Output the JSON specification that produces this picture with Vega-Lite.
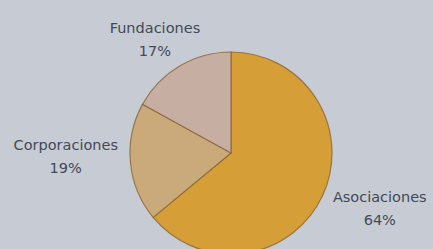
{
  "$schema": "https://vega.github.io/schema/vega-lite/v6.json",
  "width": 202,
  "height": 202,
  "padding": {"left": 130, "top": 52, "right": 101, "bottom": 0},
  "autosize": {"type": "none"},
  "background": "#c7ccd4",
  "config": {"view": {"stroke": null}},
  "data": {"values": [
    {"tipo": "Asociaciones", "pct": 64, "etiqueta": "Asociaciones\n64%", "orden": 1},
    {"tipo": "Corporaciones", "pct": 19, "etiqueta": "Corporaciones\n19%", "orden": 2},
    {"tipo": "Fundaciones", "pct": 17, "etiqueta": "Fundaciones\n17%", "orden": 3}
  ]},
  "encoding": {
    "theta": {"field": "pct", "type": "quantitative", "stack": true},
    "order": {"field": "orden", "type": "quantitative"}
  },
  "layer": [
    {
      "mark": {"type": "arc", "outerRadius": 101, "stroke": "#8a6634", "strokeWidth": 1.2, "strokeOpacity": 0.8},
      "encoding": {
        "color": {
          "field": "tipo", "type": "nominal", "legend": null,
          "scale": {"domain": ["Asociaciones", "Corporaciones", "Fundaciones"], "range": ["#d69e36", "#caaa7a", "#c6aea3"]}
        }
      }
    },
    {
      "mark": {"type": "text", "radius": 160, "dx": 4, "dy": -23, "font": "DejaVu Sans", "fontSize": 14.5, "fill": "#434957", "lineHeight": 23, "lineBreak": "\n"},
      "encoding": {"text": {"condition": {"test": "datum.tipo == 'Asociaciones'", "field": "etiqueta"}, "value": ""}}
    },
    {
      "mark": {"type": "text", "radius": 165, "dx": -1, "dy": -23, "font": "DejaVu Sans", "fontSize": 14.5, "fill": "#434957", "lineHeight": 23, "lineBreak": "\n"},
      "encoding": {"text": {"condition": {"test": "datum.tipo == 'Corporaciones'", "field": "etiqueta"}, "value": ""}}
    },
    {
      "mark": {"type": "text", "radius": 120, "dx": -15, "dy": -21, "font": "DejaVu Sans", "fontSize": 14.5, "fill": "#434957", "lineHeight": 23, "lineBreak": "\n"},
      "encoding": {"text": {"condition": {"test": "datum.tipo == 'Fundaciones'", "field": "etiqueta"}, "value": ""}}
    }
  ]
}
